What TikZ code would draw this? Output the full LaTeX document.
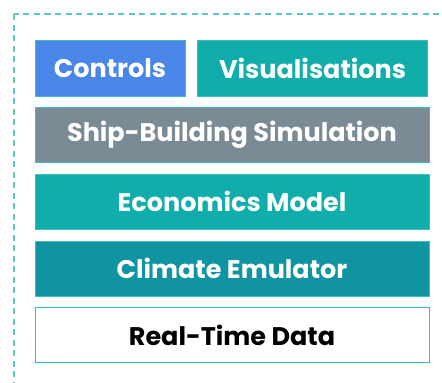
\documentclass[tikz,border=0pt]{standalone}
\usepackage{fontspec}
\setmainfont{Poppins}
\usepackage{xcolor}
\usepackage{tikz}
\usetikzlibrary{positioning}

\definecolor{ctrlblue}{HTML}{4A86E8}
\definecolor{tealmid}{HTML}{10ADAB}
\definecolor{tealdark}{HTML}{1094A2}
\definecolor{shipgrey}{HTML}{7A8B96}
\definecolor{frameteal}{HTML}{5CC6C6}
\definecolor{edgeteal}{HTML}{3CBDBD}

\begin{document}
\begin{tikzpicture}[x=1pt, y=1pt, node distance=11pt]
\tikzstyle{layer}=[rectangle, draw=edgeteal, line width=0.6pt, minimum height=55pt, inner sep=0pt, text=white, font=\bfseries\fontsize{25.5}{30}\selectfont]
\tikzstyle{wide}=[layer, minimum width=394pt]

\useasboundingbox (0,0) rectangle (442,-383);
\draw[frameteal, line width=1.4pt, dash pattern=on 6pt off 4.5pt] (14,-14) rectangle (460,-400);

\node[layer, fill=ctrlblue, minimum width=150pt, minimum height=56pt] (ctrl) at (110,-68) {Controls};
\node[layer, fill=tealmid, minimum width=230pt, minimum height=56pt, right=12pt of ctrl] (vis) {Visualisations};

\node[wide, fill=shipgrey, below=11pt of ctrl.south west, anchor=north west] (ship) {Ship-Building Simulation};
\node[wide, fill=tealmid, below=of ship] (econ) {Economics Model};
\node[wide, fill=tealdark, below=of econ] (clim) {Climate Emulator};
\node[wide, fill=white, text=black, below=of clim] (data) {Real-Time Data};
\end{tikzpicture}
\end{document}
